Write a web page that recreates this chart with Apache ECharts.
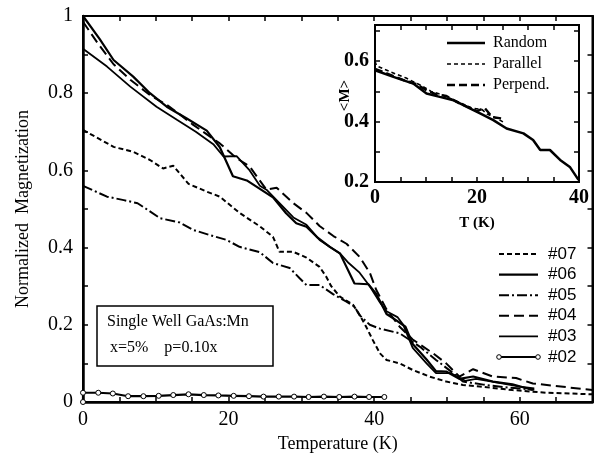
<!DOCTYPE html>
<html>
<head>
<meta charset="utf-8">
<script src="https://cdn.jsdelivr.net/npm/echarts@6/dist/echarts.min.js"></script>
<style>
  html, body { margin: 0; padding: 0; background: #fff; }
  #chart { width: 600px; height: 459px; }
</style>
</head>
<body>
<div id="chart"></div>
<script>
// Magnetization curves for the single-well GaAs:Mn samples (x = 5%, p = 0.10x)
const t07 = [0, 4.2, 6.9, 9.2, 11, 12.4, 14.5, 17, 18.8, 21.5, 24.3, 26.1, 27, 28.9, 30.7, 32.5, 33.4, 34.1, 35.3, 37.1, 38, 38.9, 39.8, 40.8, 41.7, 43.5, 45.3, 47.6, 49.9, 52.2, 54.5, 59, 63.6, 70];
const m07 = [0.705, 0.661, 0.648, 0.627, 0.605, 0.612, 0.565, 0.545, 0.532, 0.49, 0.455, 0.428, 0.389, 0.389, 0.374, 0.35, 0.325, 0.30, 0.273, 0.252, 0.226, 0.195, 0.161, 0.126, 0.109, 0.10, 0.083, 0.066, 0.053, 0.044, 0.040, 0.031, 0.024, 0.02];

const t06 = [0, 2.3, 4.2, 6.9, 9.2, 11.5, 14.2, 17, 18.8, 20.6, 22.5, 24.3, 26.1, 27.9, 29.3, 30.7, 32.1, 33.9, 35.3, 37.3, 39.2, 40.3, 41.7, 43, 44.3, 45.3, 47.2, 48.5, 49.9, 51.7, 53.6, 56.3, 59, 61.8];
const m06 = [1.0, 0.94, 0.886, 0.843, 0.80, 0.765, 0.735, 0.703, 0.66, 0.585, 0.574, 0.552, 0.53, 0.489, 0.463, 0.454, 0.428, 0.402, 0.385, 0.307, 0.305, 0.28, 0.228, 0.212, 0.195, 0.15, 0.11, 0.08, 0.079, 0.06, 0.066, 0.053, 0.046, 0.031];

const t05 = [0, 3.3, 5.6, 7.5, 10.6, 13.3, 15.1, 17.5, 19.7, 21.5, 24.3, 26.1, 27, 28.4, 29.8, 30.7, 32.5, 34.4, 36.2, 37.3, 38, 39.4, 40.8, 43.5, 46.3, 48.5, 50.5, 52.2, 55, 58, 62];
const m05 = [0.56, 0.532, 0.523, 0.515, 0.476, 0.465, 0.446, 0.432, 0.42, 0.402, 0.388, 0.36, 0.355, 0.347, 0.32, 0.303, 0.303, 0.279, 0.26, 0.247, 0.225, 0.20, 0.19, 0.178, 0.143, 0.109, 0.08, 0.053, 0.045, 0.038, 0.032];

const t04 = [0, 2, 4.2, 6.5, 9.2, 11.5, 13.3, 15, 16.5, 18.8, 20.6, 21.5, 22.9, 25.2, 26.6, 28.9, 30.7, 32.5, 34.4, 36.2, 38, 39.4, 40.3, 41.7, 43.5, 45.3, 48.1, 49.9, 51.7, 53.6, 56.3, 59.5, 61.8, 70];
const m04 = [0.985, 0.93, 0.875, 0.835, 0.795, 0.77, 0.745, 0.72, 0.70, 0.67, 0.64, 0.627, 0.61, 0.55, 0.555, 0.515, 0.49, 0.456, 0.43, 0.41, 0.376, 0.335, 0.29, 0.24, 0.195, 0.162, 0.126, 0.10, 0.066, 0.085, 0.066, 0.062, 0.048, 0.031];

const t03 = [0, 3.3, 6.5, 10.1, 12.9, 15.5, 17.9, 19.3, 21.1, 22.9, 24.3, 25.2, 27, 28.9, 30.7, 32.5, 35.3, 36.5, 38, 39.4, 40.8, 41.7, 43.2, 44, 45.3, 47.2, 48.5, 50.5, 52.5, 54, 57, 60, 62];
const m03 = [0.915, 0.869, 0.817, 0.765, 0.731, 0.70, 0.668, 0.636, 0.637, 0.60, 0.56, 0.55, 0.515, 0.478, 0.459, 0.42, 0.385, 0.36, 0.335, 0.30, 0.258, 0.235, 0.22, 0.2, 0.14, 0.10, 0.075, 0.075, 0.055, 0.06, 0.05, 0.04, 0.035];

const t02 = [0, 0, 2.1, 4.1, 6.2, 8.3, 10.4, 12.4, 14.5, 16.6, 18.6, 20.7, 22.8, 24.8, 26.9, 29.0, 31.0, 33.1, 35.2, 37.3, 39.3, 41.4];
const m02 = [0, 0.024, 0.024, 0.022, 0.015, 0.015, 0.016, 0.018, 0.020, 0.018, 0.017, 0.016, 0.015, 0.014, 0.014, 0.014, 0.013, 0.014, 0.013, 0.014, 0.013, 0.013];

// Inset: <M> versus T for the three orientations
const tRandom = [0, 3.6, 7.5, 10.1, 12.7, 15.4, 18, 20.6, 23.2, 25.8, 29.1, 31, 32.4, 34.3, 36.3, 38.2, 39.9];
const mRandom = [0.57, 0.548, 0.526, 0.493, 0.482, 0.471, 0.449, 0.427, 0.405, 0.377, 0.361, 0.339, 0.306, 0.306, 0.273, 0.25, 0.207];
const tParallel = [0, 0.3, 3, 6, 9, 11, 13, 15, 17, 19, 21, 22, 24, 25.5];
const mParallel = [0.6, 0.585, 0.565, 0.545, 0.52, 0.5, 0.49, 0.475, 0.46, 0.445, 0.44, 0.425, 0.41, 0.395];
const tPerpend = [0, 0.3, 3, 6, 8, 10, 12, 14, 16, 18, 20, 21.5, 23, 25];
const mPerpend = [0.575, 0.58, 0.555, 0.535, 0.525, 0.505, 0.49, 0.485, 0.465, 0.45, 0.435, 0.445, 0.415, 0.41];

const sampleNames = ['#07', '#06', '#05', '#04', '#03', '#02'];
const insetNames = ['Random', 'Parallel', 'Perpend.'];
const boxLines = ['Single Well GaAs:Mn', 'x=5%    p=0.10x'];

const pairs = (t, m) => t.map((v, i) => [v, m[i]]);

const SERIF = '"Liberation Serif", "Times New Roman", serif';
const SANS = '"Liberation Sans", Arial, sans-serif';

// dash patterns shared by curves and legend samples
const styles = {
  '#07': { type: [5, 3], width: 2 },
  '#06': { type: 'solid', width: 2.2 },
  '#05': { type: [10, 3, 2, 3], width: 2 },
  '#04': { type: [10, 5], width: 2 },
  '#03': { type: 'solid', width: 1.8 },
  '#02': { type: 'solid', width: 2.2 },
  'Random': { type: 'solid', width: 2.5 },
  'Parallel': { type: [4, 3], width: 1.6 },
  'Perpend.': { type: [8, 4], width: 2.4 }
};

const mainData = {
  '#07': pairs(t07, m07), '#06': pairs(t06, m06), '#05': pairs(t05, m05),
  '#04': pairs(t04, m04), '#03': pairs(t03, m03), '#02': pairs(t02, m02)
};
const insetData = {
  'Random': pairs(tRandom, mRandom), 'Parallel': pairs(tParallel, mParallel), 'Perpend.': pairs(tPerpend, mPerpend)
};

// show a tick label only on every `step` units
const everyLabel = step => v => {
  const r = v / step;
  return Math.abs(r - Math.round(r)) < 1e-6 ? String(+v.toFixed(2)) : '';
};

const chart = echarts.init(document.getElementById('chart'), null, { renderer: 'canvas' });

function frameAxis(pos, gridIndex, min, max, interval, extra) {
  const ax = {
    type: 'value', show: true, gridIndex: gridIndex, position: pos, min: min, max: max, interval: interval,
    axisLine: { show: true, onZero: false, lineStyle: { color: '#000', width: 2 } },
    axisTick: { show: true, inside: true, length: 5, lineStyle: { color: '#000', width: 1.5 } },
    axisLabel: { show: false },
    splitLine: { show: false }
  };
  return Object.assign(ax, extra || {});
}

const xAxes = [
  frameAxis('bottom', 0, 0, 70, 5, {
    name: 'Temperature (K)', nameLocation: 'middle', nameGap: 27,
    nameTextStyle: { fontFamily: SERIF, fontSize: 18, color: '#000' },
    axisLine: { show: true, onZero: false, lineStyle: { color: '#000', width: 2.5 } },
    axisLabel: { show: true, formatter: everyLabel(20), margin: 8, fontFamily: SERIF, fontSize: 20, color: '#000' }
  }),
  frameAxis('top', 0, 0, 70, 5),
  frameAxis('bottom', 1, 0, 40, 5, {
    name: 'T (K)', nameLocation: 'middle', nameGap: 34,
    nameTextStyle: { fontFamily: SERIF, fontSize: 15, fontWeight: 'bold', color: '#000' },
    axisLabel: { show: true, formatter: everyLabel(20), margin: 6, fontFamily: SERIF, fontSize: 20, fontWeight: 'bold', color: '#000' }
  }),
  frameAxis('top', 1, 0, 40, 5)
];

const yAxes = [
  frameAxis('left', 0, 0, 1, 0.1, {
    name: 'Normalized  Magnetization', nameLocation: 'middle', nameGap: 51,
    nameTextStyle: { fontFamily: SERIF, fontSize: 18, color: '#000' },
    axisLine: { show: true, onZero: false, lineStyle: { color: '#000', width: 2.5 } },
    axisLabel: { show: true, formatter: everyLabel(0.2), margin: 10, fontFamily: SERIF, fontSize: 20, color: '#000' }
  }),
  frameAxis('right', 0, 0, 1, 0.1),
  frameAxis('left', 1, 0.2, 0.72, 0.1, {
    name: '<M>', nameLocation: 'middle', nameGap: 22, nameRotate: 90, nameMoveOverlap: false,
    nameTextStyle: { fontFamily: SERIF, fontSize: 15, fontWeight: 'bold', color: '#000', padding: [0, 0, 0, 16] },
    axisLabel: { show: true, formatter: everyLabel(0.2), margin: 6, showMaxLabel: false, fontFamily: SERIF, fontSize: 20, fontWeight: 'bold', color: '#000' }
  }),
  frameAxis('right', 1, 0.2, 0.72, 0.1)
];

const series = [];
sampleNames.forEach(name => {
  const s = styles[name];
  const isMarked = name === '#02';
  series.push({
    name: name, type: 'line', xAxisIndex: 0, yAxisIndex: 0,
    data: mainData[name],
    symbol: isMarked ? 'circle' : 'none', symbolSize: 5, showSymbol: isMarked,
    itemStyle: { color: '#fff', borderColor: '#000', borderWidth: 1 },
    lineStyle: { color: '#000', width: s.width, type: s.type },
    animation: false, silent: true, z: 3
  });
});
insetNames.forEach(name => {
  const s = styles[name];
  series.push({
    name: name, type: 'line', xAxisIndex: 2, yAxisIndex: 2,
    data: insetData[name], symbol: 'none',
    lineStyle: { color: '#000', width: s.width, type: s.type },
    animation: false, silent: true, z: 3
  });
});

// legend samples and the annotation box
const graphics = [];
function sampleLine(x, y, name, len, withMarks) {
  const s = styles[name];
  graphics.push({
    type: 'line', shape: { x1: x, y1: y, x2: x + len, y2: y },
    style: { stroke: '#000', lineWidth: s.width, lineDash: Array.isArray(s.type) ? s.type : null }
  });
  if (withMarks) {
    [x, x + len].forEach(cx => graphics.push({
      type: 'circle', shape: { cx: cx, cy: y, r: 2.3 },
      style: { fill: '#fff', stroke: '#000', lineWidth: 1 }, z: 10
    }));
  }
}
sampleNames.forEach((name, i) => {
  const y = 254 + i * 20.6;
  sampleLine(499, y, name, 39, name === '#02');
  graphics.push({
    type: 'text', x: 548, y: y, style: { text: name, font: '17px ' + SANS, fill: '#000', textVerticalAlign: 'middle' }
  });
});
insetNames.forEach((name, i) => {
  const y = 43 + i * 21;
  sampleLine(447, y, name, 38, false);
  graphics.push({
    type: 'text', x: 493, y: y, style: { text: name, font: '16px ' + SERIF, fill: '#000', textVerticalAlign: 'middle' }
  });
});
graphics.push({
  type: 'rect', shape: { x: 97, y: 306, width: 176, height: 60 },
  style: { fill: '#fff', stroke: '#000', lineWidth: 1.5 }, z: 5
});
graphics.push({
  type: 'text', x: 107, y: 322, z: 6,
  style: { text: boxLines[0], font: '16px ' + SERIF, fill: '#000', textVerticalAlign: 'middle' }
});
graphics.push({
  type: 'text', x: 110, y: 348, z: 6,
  style: { text: boxLines[1], font: '16px ' + SERIF, fill: '#000', textVerticalAlign: 'middle' }
});

chart.setOption({
  backgroundColor: '#fff',
  animation: false,
  grid: [
    { left: 83, top: 16, width: 509.5, height: 386, show: true, borderColor: '#000', borderWidth: 2, backgroundColor: 'transparent' },
    { left: 375, top: 25, width: 204, height: 157, show: true, backgroundColor: '#fff', borderColor: '#000', borderWidth: 2 }
  ],
  xAxis: xAxes,
  yAxis: yAxes,
  series: series,
  graphic: graphics
});
</script>
</body>
</html>
